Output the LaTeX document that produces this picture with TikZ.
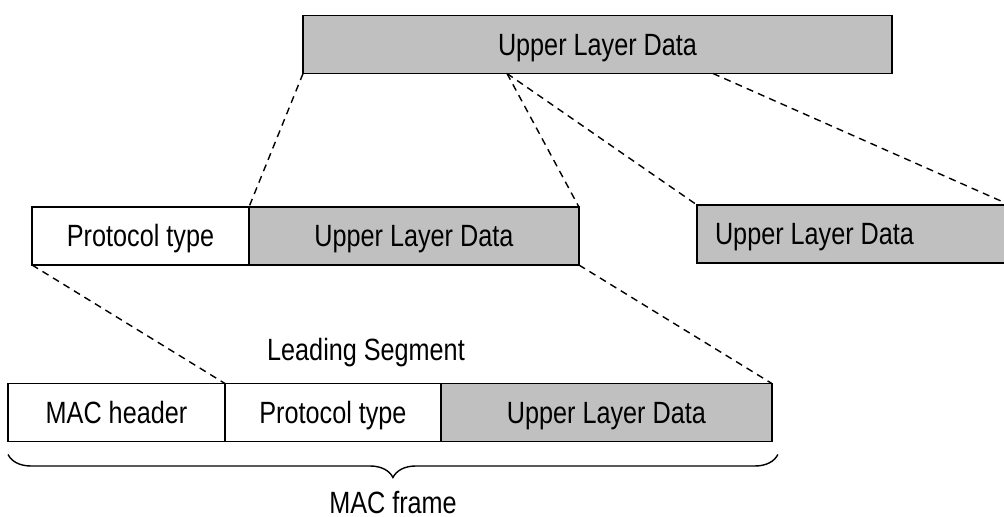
\documentclass[tikz,border=0pt]{standalone}
\usepackage{fontspec}
\setmainfont[FakeStretch=0.82]{Liberation Sans}
\definecolor{pdugray}{RGB}{192,192,192}
\usetikzlibrary{positioning,decorations.pathreplacing}
\newcommand{\pdufont}{\fontsize{17.5}{21}\selectfont}
\tikzset{
  field/.style={rectangle,draw=black,line width=1.1pt,fill=#1,
                minimum height=1.16cm,inner sep=0pt,outer sep=0pt,
                text height=16pt,text depth=3.5pt,
                font=\pdufont,align=center},
  field/.default=white,
  map/.style={line width=0.8pt,dash pattern=on 4pt off 3pt},
  framebrace/.style={decorate,line width=0.8pt,
                     decoration={brace,mirror,amplitude=0.46cm}},
  note/.style={font=\pdufont,inner sep=0pt,anchor=base},
}

\begin{document}
\begin{tikzpicture}[x=0.02cm,y=-0.02cm]
  \useasboundingbox (0,0) rectangle (1004,517);
  % upper layer PDU
  \node[field=pdugray,minimum width=11.78cm] (topdata) at (597.5,44.5) {Upper Layer Data};
  \coordinate (splitA) at ([xshift=4.08cm]topdata.south west);
  \coordinate (splitB) at ([xshift=8.2cm]topdata.south west);
  % segments
  \node[field,minimum width=4.34cm] (midproto) at (140.5,236) {Protocol type};
  \node[field=pdugray,minimum width=6.6cm,right=0pt of midproto] (middata) {Upper Layer Data};
  \node[field=pdugray,minimum width=6.26cm]
       (segdata) at (853.5,234) {\makebox[5.54cm][l]{Upper Layer Data}};
  \node[note] (lead) at (366,360) {Leading Segment};
  % MAC frame
  \node[field,minimum width=4.34cm] (machdr) at (116.5,412.5) {MAC header};
  \node[field,minimum width=4.32cm,right=0pt of machdr] (botproto) {Protocol type};
  \node[field=pdugray,minimum width=6.62cm,right=0pt of botproto] (botdata) {Upper Layer Data};
  \draw[framebrace] ([yshift=-0.26cm]machdr.south west)
        -- ([xshift=0.12cm,yshift=-0.26cm]botdata.south east);
  \node[note] (frame) at (393,513) {MAC frame};
  % mapping lines
  \draw[map] (topdata.south west) -- (midproto.north east);
  \draw[map] (splitA) -- (middata.north east);
  \draw[map] (splitA) -- (segdata.north west);
  \draw[map] (splitB) -- (segdata.north east);
  \draw[map] (midproto.south west) -- (machdr.north east);
  \draw[map] (middata.south east) -- (botdata.north east);
\end{tikzpicture}
\end{document}
